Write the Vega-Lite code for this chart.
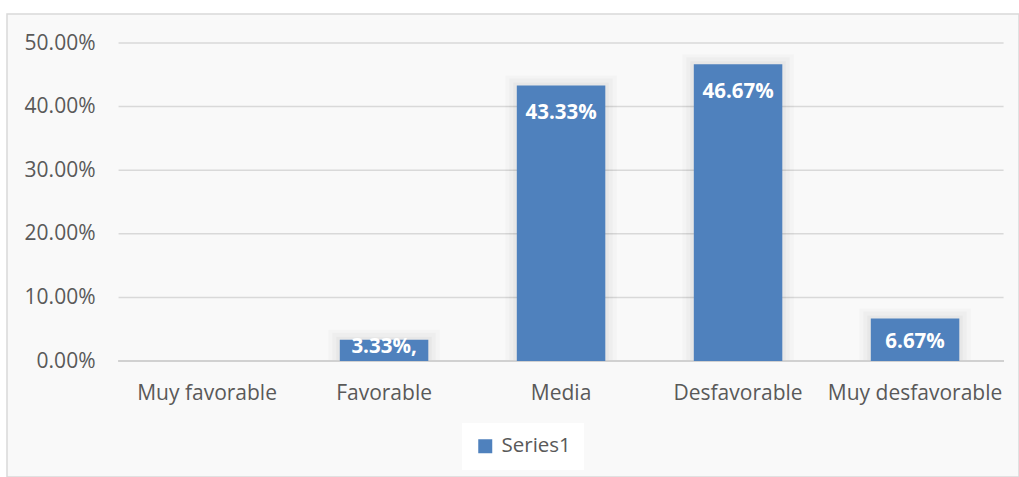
{
  "$schema": "https://vega.github.io/schema/vega-lite/v6.json",
  "width": 1012,
  "height": 463,
  "autosize": {"type": "none"},
  "padding": {"left": 7, "top": 14, "right": 0, "bottom": 0},
  "background": "white",
  "config": {
    "view": {"stroke": "#d9d9d9", "strokeWidth": 1.5, "fill": "#f9f9f9"},
    "font": "Open Sans"
  },
  "datasets": {
    "bars": [
      {"categoria": "Muy favorable", "value": 0.0, "label": ""},
      {"categoria": "Favorable", "value": 0.0333, "label": "3.33%,"},
      {"categoria": "Media", "value": 0.4333, "label": "43.33%"},
      {"categoria": "Desfavorable", "value": 0.4667, "label": "46.67%"},
      {"categoria": "Muy desfavorable", "value": 0.0667, "label": "6.67%"}
    ],
    "grid": [
      {"v": 0.1}, {"v": 0.2}, {"v": 0.3}, {"v": 0.4}, {"v": 0.5}
    ]
  },
  "encoding": {
    "x": {
      "field": "categoria",
      "type": "nominal",
      "sort": null,
      "scale": {
        "domain": ["Muy favorable", "Favorable", "Media", "Desfavorable", "Muy desfavorable"],
        "paddingInner": 0.5,
        "paddingOuter": 0.60876,
        "align": 0.723,
        "round": false
      },
      "axis": {
        "title": null,
        "orient": "bottom",
        "offset": -116,
        "domain": false,
        "ticks": false,
        "tickSize": 0,
        "grid": false,
        "labelAngle": 0,
        "labelPadding": 21,
        "labelFont": "Open Sans",
        "labelFontSize": 21,
        "labelColor": "#595959"
      }
    }
  },
  "layer": [
    {
      "data": {"name": "grid"},
      "mark": {"type": "rule", "color": "#d9d9d9", "strokeWidth": 1.5},
      "encoding": {
        "x": {"datum": "Muy favorable", "bandPosition": -0.5},
        "x2": {"datum": "Muy desfavorable", "bandPosition": 1.5},
        "y": {"field": "v", "type": "quantitative"}
      }
    },
    {
      "data": {"name": "bars"},
      "transform": [{"filter": "datum.value > 0"}],
      "mark": {"type": "bar", "color": "#000000", "opacity": 0.018, "width": {"band": 1.26}, "yOffset": -10},
      "encoding": {
        "y": {"field": "value", "type": "quantitative"},
        "y2": {"datum": 0}
      }
    },
    {
      "data": {"name": "bars"},
      "transform": [{"filter": "datum.value > 0"}],
      "mark": {"type": "bar", "color": "#000000", "opacity": 0.022, "width": {"band": 1.17}, "yOffset": -7},
      "encoding": {
        "y": {"field": "value", "type": "quantitative"},
        "y2": {"datum": 0}
      }
    },
    {
      "data": {"name": "bars"},
      "transform": [{"filter": "datum.value > 0"}],
      "mark": {"type": "bar", "color": "#000000", "opacity": 0.028, "width": {"band": 1.08}, "yOffset": -3},
      "encoding": {
        "y": {"field": "value", "type": "quantitative"},
        "y2": {"datum": 0}
      }
    },
    {
      "data": {"name": "grid"},
      "mark": {"type": "rule", "color": "#d0d0d0", "strokeWidth": 1.5},
      "encoding": {
        "x": {"datum": "Muy favorable", "bandPosition": -0.5},
        "x2": {"datum": "Muy desfavorable", "bandPosition": 1.5},
        "y": {"datum": 0}
      }
    },
    {
      "data": {"name": "bars"},
      "mark": {"type": "bar"},
      "encoding": {
        "y": {
          "field": "value",
          "type": "quantitative",
          "scale": {"domain": [-0.18239, 0.5456], "nice": false, "zero": false},
          "axis": {
            "title": null,
            "orient": "left",
            "offset": -111,
            "values": [0, 0.1, 0.2, 0.3, 0.4, 0.5],
            "format": ".2%",
            "domain": false,
            "ticks": false,
            "tickSize": 0,
            "grid": false,
            "labelPadding": 23,
            "labelFont": "Open Sans",
            "labelFontSize": 21,
            "labelColor": "#595959"
          }
        },
        "y2": {"datum": 0},
        "color": {
          "datum": "Series1",
          "type": "nominal",
          "scale": {"range": ["#4f81bd"]},
          "legend": {
            "title": null,
            "orient": "none",
            "legendX": 455,
            "legendY": 409,
            "fillColor": "white",
            "padding": 13,
            "symbolType": "square",
            "symbolSize": 196,
            "symbolStrokeWidth": 0,
            "symbolOffset": 0,
            "labelFont": "Open Sans",
            "labelFontSize": 20.5,
            "labelColor": "#595959",
            "labelOffset": 6
          }
        }
      }
    },
    {
      "data": {"name": "bars"},
      "mark": {
        "type": "text",
        "color": "white",
        "font": "Open Sans",
        "fontWeight": "bold",
        "fontSize": 20.5,
        "baseline": "middle",
        "align": "center",
        "dy": {"expr": "datum.value > 0.2 ? 28 : (datum.value > 0.05 ? 23 : 7)"}
      },
      "encoding": {
        "y": {"field": "value", "type": "quantitative"},
        "text": {"field": "label"}
      }
    }
  ]
}
